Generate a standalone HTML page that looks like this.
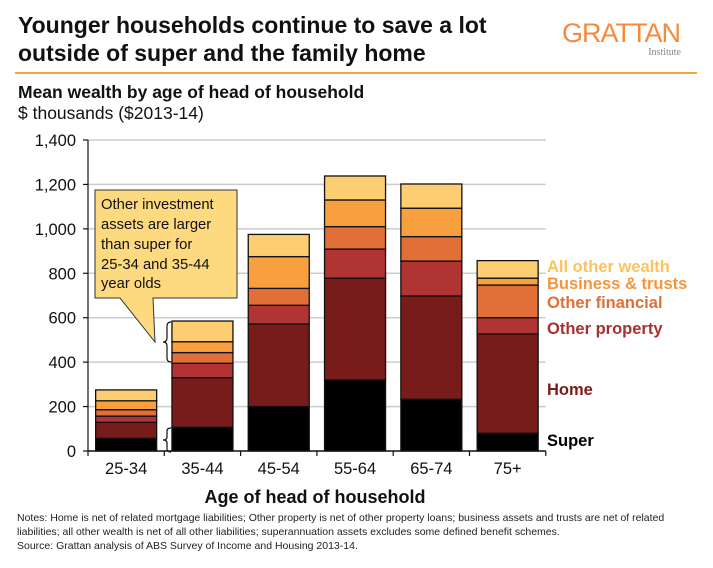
<!DOCTYPE html>
<html><head><meta charset="utf-8"><style>
body{margin:0;width:713px;height:563px;background:#fff;font-family:"Liberation Sans",Arial,sans-serif;overflow:hidden}
</style></head><body>
<svg width="713" height="563" xmlns="http://www.w3.org/2000/svg" font-family="Liberation Sans, Arial, sans-serif">
<text x="18" y="33" font-size="23" font-weight="bold" fill="#111">Younger households continue to save a lot</text>
<text x="18" y="61" font-size="23" font-weight="bold" fill="#111">outside of super and the family home</text>
<text x="562" y="42" font-size="27" fill="#F7893A" letter-spacing="-1">GRATTAN</text>
<text x="681" y="55" font-size="10" fill="#888" text-anchor="end" font-family="Liberation Serif, serif">Institute</text>
<line x1="15" y1="73" x2="697" y2="73" stroke="#F7A63A" stroke-width="2"/>
<text x="18" y="98" font-size="17.5" font-weight="bold" fill="#111">Mean wealth by age of head of household</text>
<text x="18" y="119" font-size="17.5" fill="#111">$ thousands ($2013-14)</text>
<g id="grid"></g><g id="bars"></g><g id="axes"></g>
<g>
<path d="M95,190 H237 V298 H153 L155,342 L120,298 H95 Z" fill="#FDD980" stroke="#333" stroke-width="1"/>
<text font-size="14.8" fill="#111"><tspan x="101" y="209">Other investment</tspan><tspan x="101" y="229">assets are larger</tspan><tspan x="101" y="249">than super for</tspan><tspan x="101" y="269">25-34 and 35-44</tspan><tspan x="101" y="288">year olds</tspan></text>
<path d="M171,322 q-4,0 -4,4 v12 q0,4 -4,4 q4,0 4,4 v12 q0,4 4,4" fill="none" stroke="#111" stroke-width="1.2"/>
<path d="M171,428 q-4,0 -4,3 v6 q0,3 -4,3 q4,0 4,3 v6 q0,3 4,3" fill="none" stroke="#111" stroke-width="1.2"/>
</g>
<g font-size="16.5" font-weight="bold">
<text x="547" y="272" fill="#FDC25A">All other wealth</text>
<text x="547" y="289" fill="#F7953A">Business &amp; trusts</text>
<text x="547" y="308" fill="#E06F38">Other financial</text>
<text x="547" y="334" fill="#A83030">Other property</text>
<text x="547" y="395" fill="#7B1C1A">Home</text>
<text x="547" y="446" fill="#000">Super</text>
</g>
<text x="315" y="503" font-size="18" font-weight="bold" fill="#111" text-anchor="middle">Age of head of household</text>
<g font-size="10.5" fill="#222">
<text x="17" y="521">Notes: Home is net of related mortgage liabilities; Other property is net of other property loans; business assets and trusts are net of related</text>
<text x="17" y="535">liabilities; all other wealth is net of all other liabilities; superannuation assets excludes some defined benefit schemes.</text>
<text x="17" y="549">Source: Grattan analysis of ABS Survey of Income and Housing 2013-14.</text>
</g>
</svg>
<script>
const categories=["25-34","35-44","45-54","55-64","65-74","75+"];
const superV=[57,107,200,320,233,80];
const homeV=[72,223,372,458,465,447];
const otherPropV=[28,65,84,131,157,73];
const otherFinV=[29,48,76,101,110,147];
const businessV=[40,49,143,120,128,31];
const otherWealthV=[49,93,100,108,109,79];
const yTicks=[0,200,400,600,800,1000,1200,1400];
const yTickLabels=["0","200","400","600","800","1,000","1,200","1,400"];
const series=[["super",superV,"#000"],["home",homeV,"#771C1A"],["other-property",otherPropV,"#B03434"],["other-financial",otherFinV,"#E06F38"],["business-trusts",businessV,"#F89F40"],["all-other-wealth",otherWealthV,"#FDCD72"]];
const NS="http://www.w3.org/2000/svg";
const x0=88,bw=76.3,y0=451,kpx=311/1400;
const y=v=>y0-v*kpx;
const xc=i=>x0+bw*(i+0.5);
function mk(t,a,p){const e=document.createElementNS(NS,t);for(const k in a)e.setAttribute(k,a[k]);p.appendChild(e);return e;}
const G=document.getElementById('grid'),B=document.getElementById('bars'),A=document.getElementById('axes');
yTicks.forEach((t,i)=>{
 if(t>0){const l=mk('line',{x1:x0,x2:x0+bw*6,y1:y(t),y2:y(t),stroke:'#ccc','stroke-width':1.5},G);
 
 }
 const tk=mk('line',{x1:x0-5,x2:x0,y1:y(t),y2:y(t),stroke:'#111','stroke-width':1.2},A);
 
 
 const tx=mk('text',{x:x0-12,y:y(t)+6,'font-size':16.5,'text-anchor':'end',fill:'#111'},A);tx.textContent=yTickLabels[i];
 
 
});
categories.forEach((c,i)=>{
 let acc=0;
 series.forEach(s=>{const v=s[1][i];
  const r=mk('rect',{x:xc(i)-30.5,width:61,y:y(acc+v),height:v*kpx,fill:s[2],stroke:'#111','stroke-width':1.3},B);
  
  
  acc+=v;});
 const tx=mk('text',{x:xc(i),y:474,'font-size':16.5,'text-anchor':'middle',fill:'#111'},A);tx.textContent=c;
 
 
});
for(let i=0;i<=6;i++){const t=mk('line',{x1:x0+bw*i,x2:x0+bw*i,y1:y0,y2:y0+5,stroke:'#111','stroke-width':1.2},A);
 
 }
const ax=mk('line',{x1:x0,x2:x0+bw*6,y1:y0,y2:y0,stroke:'#111','stroke-width':1.5},A);


const ay=mk('line',{x1:x0,x2:x0,y1:y0,y2:y(1400),stroke:'#111','stroke-width':1.2},A);


</script>
</body></html>
